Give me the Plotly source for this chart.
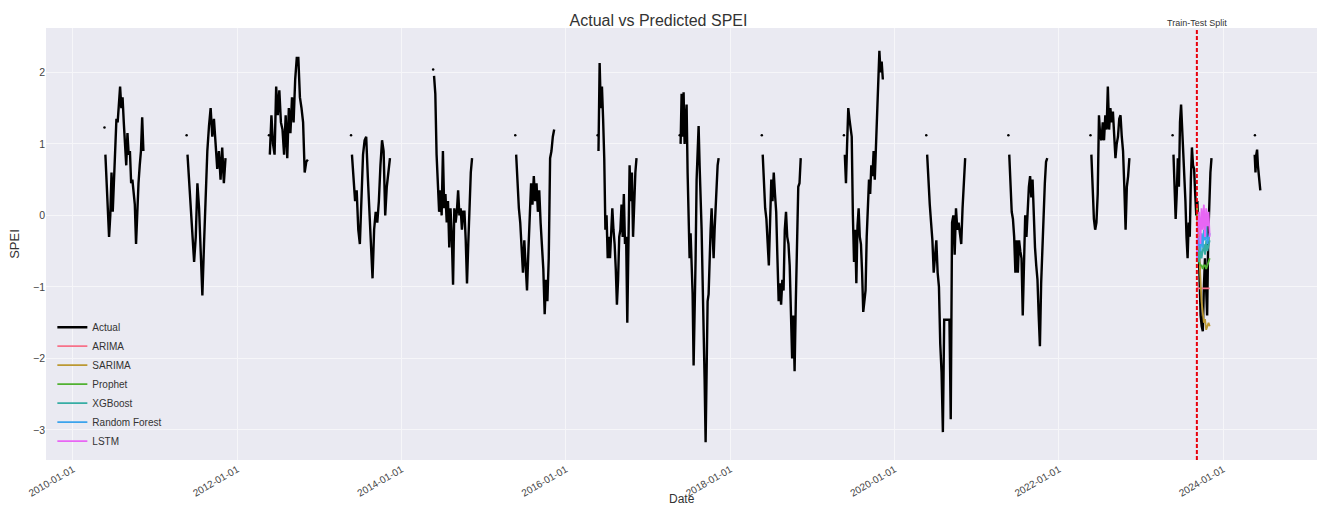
import pandas as pd
import plotly.graph_objects as go

# ---------------- data ----------------
years = list(range(2010, 2025))
seg_starts = [f"{y}-05-25" for y in range(2010, 2024)] + ["2024-05-20"]
seg_ends = [f"{y}-11-10" for y in range(2010, 2024)] + ["2024-06-14"]

spei_2010 = [0.85, 0.5, 0.1, -0.3, 0.0, 0.6, 0.05, 0.5, 1.0, 1.35, 1.3, 1.5, 1.8, 1.5, 1.65, 1.3,
             1.0, 0.7, 1.15, 0.85, 0.9, 0.45, 0.5, 0.25, 0.15, -0.4, 0.2, 0.45, 0.7, 0.9, 1.37, 0.9]
spei_2011 = [0.85, 0.45, 0.0, -0.4, -0.65, -0.3, 0.45, 0.1, -0.5, -1.12, -0.4, 0.35, 0.9, 1.25,
             1.5, 1.1, 1.35, 1.0, 0.65, 0.9, 0.5, 0.95, 0.45, 0.8]
spei_2012 = [0.85, 1.4, 1.0, 0.85, 1.8, 1.4, 1.75, 1.3, 1.2, 0.85, 1.4, 0.8, 1.5, 1.15, 1.65, 1.3,
             1.9, 2.2, 2.2, 1.65, 1.5, 1.3, 0.6, 0.75, 0.78]
spei_2013 = [0.85, 0.45, 0.2, 0.35, -0.2, -0.4, 0.3, 0.85, 1.05, 1.1, 0.55, 0.0, -0.4, -0.88, -0.2,
             0.05, -0.1, 0.2, 0.7, 1.05, 0.9, 0.0, 0.4, 0.65, 0.8]
spei_2014 = [1.95, 1.7, 0.85, 0.45, 0.05, 0.35, 0.0, 0.9, 0.1, 0.3, -0.1, 0.2, -0.45, 0.1, -0.3,
             -0.97, 0.1, -0.1, 0.05, 0.35, 0.0, 0.1, -0.2, 0.05, 0.05, -0.35, -0.95, -0.4, 0.3, 0.6, 0.8]
spei_2015 = [0.85, 0.45, 0.1, -0.1, -0.4, -0.8, -0.35, -0.8, -1.05, -0.5, 0.15, 0.45, 0.15, 0.55,
             0.2, 0.45, 0.05, 0.35, -0.1, -0.4, -0.75, -1.38, -0.9, -1.2, -0.6, 0.8, 0.9, 1.1, 1.2]
spei_2016 = [0.9, 2.13, 1.5, 1.8, 1.35, 0.8, -0.2, 0.0, -0.6, -0.3, -0.6, -0.2, 0.1, -0.2, -0.4,
             -0.75, -1.25, -0.9, -0.3, -0.2, 0.15, -0.3, 0.3, -0.4, -0.3, -1.5, -0.5, 0.7, 0.2, 0.6,
             -0.3, 0.3, 0.6, 0.8]
spei_2017 = [1.0, 1.7, 1.1, 1.72, 1.0, 1.2, 1.55, 0.6, -0.15, -0.6, -0.25, -0.8, -1.1, -2.1, -0.9,
             -0.6, 0.5, 0.9, 1.25, 0.7, 0.3, -0.2, -0.9, -1.5, -2.3, -3.17, -2.0, -1.2, -1.1, -0.4,
             -0.2, 0.1, -0.3, -0.6, -0.2, 0.2, 0.5, 0.7, 0.8]
spei_2018 = [0.85, 0.45, 0.1, -0.05, -0.4, -0.7, -0.1, 0.5, 0.2, 0.6, 0.3, 0.05, -0.6, -1.2, -0.95,
             -1.25, -0.9, -1.05, -0.2, 0.05, -0.3, -0.4, -0.7, -1.45, -2.0, -1.4, -2.18, -1.2, -0.35,
             0.4, 0.45, 0.8]
spei_2019 = [0.85, 0.45, 1.0, 1.5, 1.35, 1.25, 1.1, 0.0, -0.65, -0.2, -0.95, -0.15, 0.1, -0.3, -0.4,
             -0.8, -1.35, -1.2, -1.05, -0.3, 0.1, 0.5, 0.3, 0.7, 0.55, 0.9, 0.5, 1.0, 1.5, 1.8, 2.3,
             2.0, 2.15, 1.9]
spei_2020 = [0.85, 0.45, 0.15, -0.1, -0.35, -0.8, -0.6, -0.35, -0.8, -1.0, -1.8, -2.2, -3.03, -1.46,
             -1.46, -1.46, -1.46, -1.46, -2.85, -0.1, 0.0, -0.55, 0.1, -0.2, -0.1, -0.3, -0.4, 0.1,
             0.45, 0.8]
spei_2021 = [0.85, 0.45, 0.05, -0.05, -0.3, -0.8, -0.35, -0.8, -0.35, -0.5, -0.6, -1.4, -0.5, 0.0,
             -0.3, 0.15, 0.4, 0.55, 0.25, 0.5, -0.15, -0.45, -0.7, -0.9, -1.4, -1.83, -0.95, -0.4,
             0.0, 0.45, 0.75, 0.8]
spei_2022 = [0.85, 0.45, -0.05, -0.2, -0.1, 0.3, 1.4, 1.1, 1.05, 1.3, 1.05, 1.4, 1.2, 1.8, 1.2, 1.5,
             1.3, 1.45, 1.15, 0.8, 1.0, 1.1, 1.35, 1.4, 1.1, 0.9, 0.4, -0.2, 0.4, 0.55, 0.8]
spei_2023 = [0.85, 0.4, -0.05, 0.3, 0.8, 0.4, 1.3, 1.55, 1.2, 1.05, 0.5, 0.2, -0.3, -0.6, -0.1, -0.3,
             0.5, 0.95, 0.7, 0.65, 0.3, 0.0, 0.2, -0.4, -0.9, -1.4, -1.55, -1.62, -1.0, -0.6, -1.0,
             -1.4, -0.3, 0.3, 0.6, 0.8]
spei_2024 = [0.85, 0.6, 0.85, 0.92, 0.7, 0.55, 0.45, 0.35]

actual_segments = [spei_2010, spei_2011, spei_2012, spei_2013, spei_2014, spei_2015, spei_2016,
                   spei_2017, spei_2018, spei_2019, spei_2020, spei_2021, spei_2022, spei_2023,
                   spei_2024]

dot_dates = [f"{y}-05-21" for y in years]
dot_values = [1.23, 1.12, 1.12, 1.12, 2.04, 1.12, 1.12, 1.12, 1.12, 1.12, 1.12, 1.12, 1.12, 1.12, 1.12]

split_date = "2023-09-06"
test_start = "2023-09-06"
test_end = "2023-11-02"

pred_arima = [-1.0, -1.02, -1.02, -1.02, -1.02, -1.02, -1.02, -1.02, -1.02, -1.02, -1.02, -1.02]
pred_sarima = [0.15, -0.2, -0.6, -0.9, -1.2, -1.35, -1.5, -1.45, -1.6, -1.55, -1.5, -1.55]
pred_prophet = [-0.55, -0.6, -0.65, -0.7, -0.7, -0.75, -0.7, -0.7, -0.75, -0.7, -0.65, -0.6]
pred_xgb = [-0.6, -0.5, -0.65, -0.45, -0.6, -0.5, -0.4, -0.55, -0.35, -0.5, -0.4, -0.35]
pred_rf = [-0.55, -0.4, -0.3, -0.5, -0.25, -0.45, -0.2, -0.35, -0.15, -0.4, -0.3, -0.25]
pred_lstm = [-0.6, -0.1, 0.05, -0.4, 0.1, -0.2, 0.15, -0.3, 0.1, -0.15, 0.05, -0.3]

model_names = ["ARIMA", "SARIMA", "Prophet", "XGBoost", "Random Forest", "LSTM"]
model_colors = ["#f77189", "#bb9832", "#50b131", "#36ada4", "#3ba3ec", "#e866f4"]

x_tick_labels = [f"{y}-01-01" for y in range(2010, 2025, 2)]
y_tick_values = [-3, -2, -1, 0, 1, 2]

# ---------------- build traces ----------------
actual_x, actual_y = [], []
for s, e, vals in zip(seg_starts, seg_ends, actual_segments):
    d = pd.date_range(s, e, periods=len(vals))
    actual_x.extend(list(d))
    actual_y.extend(vals)
    actual_x.append(None)
    actual_y.append(None)

fig = go.Figure()
fig.add_trace(go.Scatter(x=actual_x, y=actual_y, mode="lines", name="Actual",
                         line=dict(color="black", width=2.4), connectgaps=False))
fig.add_trace(go.Scatter(x=dot_dates, y=dot_values, mode="markers", showlegend=False,
                         marker=dict(color="black", size=2.5)))

test_dates = pd.date_range(test_start, test_end, periods=len(pred_arima))
for name, color, vals in zip(model_names, model_colors,
                             [pred_arima, pred_sarima, pred_prophet, pred_xgb, pred_rf, pred_lstm]):
    fig.add_trace(go.Scatter(x=test_dates, y=vals, mode="lines", name=name,
                             line=dict(color=color, width=1.8)))

fig.add_shape(type="line", x0=split_date, x1=split_date, y0=0, y1=1, xref="x", yref="paper",
              line=dict(color="#e8000b", width=2, dash="4px,2px"))
fig.add_annotation(x=split_date, y=1, xref="x", yref="paper", yanchor="bottom", showarrow=False,
                   text="Train-Test Split", font=dict(size=9, color="#333333"), yshift=-2)
fig.add_annotation(x=0.5, y=-0.1065, xref="paper", yref="paper", xanchor="center", yanchor="bottom",
                   showarrow=False, text="Date", font=dict(size=12, color="#333333"), borderpad=0,
                   yshift=-1)

font_family = "Liberation Sans, Arial, sans-serif"
fig.update_layout(
    width=1317, height=506,
    margin=dict(l=46, r=0, t=28, b=46, autoexpand=False),
    paper_bgcolor="white", plot_bgcolor="#eaeaf2",
    font=dict(family=font_family, color="#333333", size=10),
    title=dict(text="Actual vs Predicted SPEI", x=0.5, xanchor="center", y=0.96, yanchor="middle",
               font=dict(size=16, color="#333333")),
    showlegend=True,
    legend=dict(x=0.005, y=0.01, xanchor="left", yanchor="bottom", bgcolor="rgba(0,0,0,0)",
                font=dict(size=10, color="#333333"), tracegroupgap=0),
    xaxis=dict(type="date", range=["2009-09-03", "2025-02-21"], automargin=False,
               tickmode="array", tickvals=x_tick_labels, ticktext=x_tick_labels,
               tickangle=-30, tickfont=dict(size=10, color="#444444"), ticklabelstandoff=1,
               showgrid=True, gridcolor="#f6f6f9", gridwidth=1, zeroline=False, showline=False),
    yaxis=dict(range=[-3.42, 2.62], tickmode="array", tickvals=y_tick_values, automargin=False,
               tickfont=dict(size=10.5, color="#444444"),
               showgrid=True, gridcolor="#f6f6f9", gridwidth=1, zeroline=False, showline=False,
               title=dict(text="SPEI", font=dict(size=13, color="#333333"), standoff=10)),
)

fig.write_html("out.html")
